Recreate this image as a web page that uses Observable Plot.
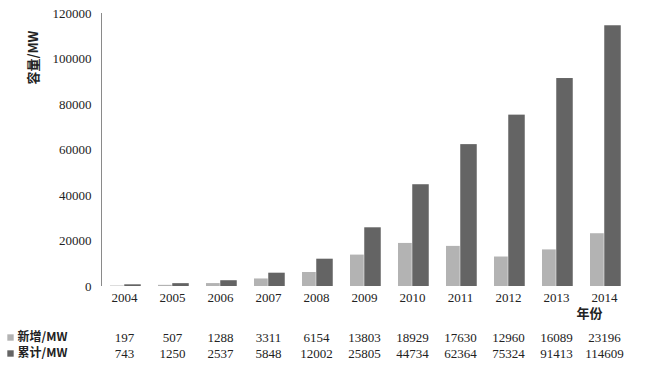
<!DOCTYPE html>
<html><head><meta charset="utf-8">
<script src="https://cdn.jsdelivr.net/npm/d3@7"></script>
<script src="https://cdn.jsdelivr.net/npm/@observablehq/plot@0.6"></script>
<style>body{margin:0;background:#fff}</style>
</head><body><div id="chart"></div>
<script>
const years = ["2004","2005","2006","2007","2008","2009","2010","2011","2012","2013","2014"];
const newAdded = [197,507,1288,3311,6154,13803,18929,17630,12960,16089,23196];
const cumulative = [743,1250,2537,5848,12002,25805,44734,62364,75324,91413,114609];
const seriesNames = ["新增/MW","累计/MW"];
const yTicks = [0,20000,40000,60000,80000,100000,120000];
const yTitle = "容量/MW";
const xTitle = "年份";

const rows = years.map((y,i)=>({year:y, add:newAdded[i], cum:cumulative[i]}));
const lightC = "#b3b3b3", darkC = "#646464";
const serif = "'Liberation Serif','DejaVu Serif',serif";
const cjk = "'Noto Sans CJK SC',sans-serif";

const chart = Plot.plot({
  width: 647, height: 365,
  marginLeft: 97, marginRight: 17, marginTop: 13, marginBottom: 79,
  style: {fontFamily: serif, fontSize: "13px", color: "#222", background: "#fff"},
  x: {domain: years, padding: 0, label: null},
  y: {domain: [0,120000], label: null},
  marks: [
    Plot.gridY(yTicks, {stroke: "#9a9a9a", strokeOpacity: 1, x1: 98, x2: 627}),
    Plot.barY(rows, {x: "year", y: "add", fill: lightC, insetLeft: 10, insetRight: 24.25}),
    Plot.barY(rows, {x: "year", y: "cum", fill: darkC, insetLeft: 24.25, insetRight: 7.25}),
    Plot.ruleY([0], {stroke: "#8a8a8a", x1: 98, x2: 632}),
    Plot.ruleX([years[0]], {x: d => d, dx: -23, stroke: "#8a8a8a", y1: 0, y2: 120000}),
    Plot.axisY(yTicks, {tickSize: 0, tickPadding: 6, tickFormat: d => String(d), label: null, fontSize: 13, fontFamily: serif, fontVariant: "normal"}),
    Plot.axisX({tickSize: 0, tickPadding: 6, label: null, fontSize: 13, fontFamily: serif, fontVariant: "normal"}),
    Plot.text([yTitle], {frameAnchor: "top-left", dx: -64, dy: 44, rotate: -90, textAnchor: "middle", lineAnchor: "middle", text: d => d, fontFamily: cjk, fontWeight: "bold", fontSize: 13}),
    Plot.text([xTitle], {x: () => "2014", frameAnchor: "bottom", lineAnchor: "middle", dx: -15, dy: 27, text: d => d, fontFamily: cjk, fontWeight: "bold", fontSize: 13}),
    Plot.text(rows, {x: "year", frameAnchor: "bottom", lineAnchor: "middle", dy: 51, text: d => String(d.add), fontSize: 13, fontFamily: serif}),
    Plot.text(rows, {x: "year", frameAnchor: "bottom", lineAnchor: "middle", dy: 67, text: d => String(d.cum), fontSize: 13, fontFamily: serif}),
    Plot.dot([seriesNames[0]], {frameAnchor: "bottom-left", dx: -87, dy: 51, symbol: "square", r: 3.6, fill: lightC, stroke: null}),
    Plot.dot([seriesNames[1]], {frameAnchor: "bottom-left", dx: -87, dy: 67, symbol: "square", r: 3.6, fill: darkC, stroke: null}),
    Plot.text([seriesNames[0]], {frameAnchor: "bottom-left", dx: -80, dy: 51, lineAnchor: "middle", textAnchor: "start", text: d => d, fontFamily: cjk, fontWeight: "bold", fontSize: 12}),
    Plot.text([seriesNames[1]], {frameAnchor: "bottom-left", dx: -80, dy: 67, lineAnchor: "middle", textAnchor: "start", text: d => d, fontFamily: cjk, fontWeight: "bold", fontSize: 12})
  ]
});
document.getElementById("chart").appendChild(chart);
</script>
</body></html>
